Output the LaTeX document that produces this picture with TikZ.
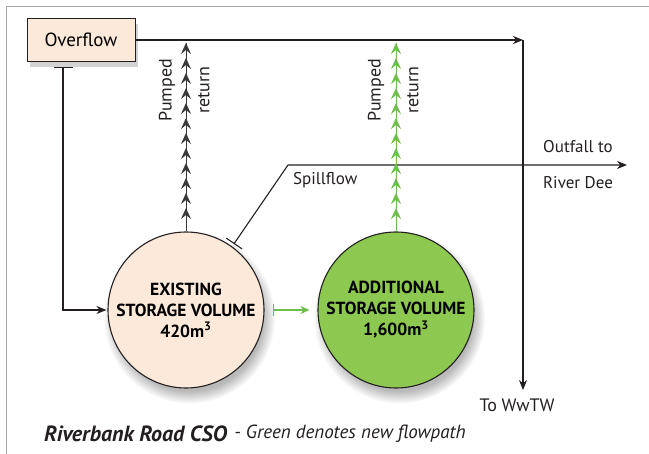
\documentclass[tikz,border=0pt]{standalone}
\usepackage{fontspec}
\setmainfont{PT Sans}
\usetikzlibrary{arrows.meta}
\usetikzlibrary{shadows}
\usetikzlibrary{decorations.markings}

\definecolor{peach}{HTML}{FCE9D9}
\definecolor{newgreen}{HTML}{8DC851}
\definecolor{arrowgreen}{HTML}{6DBE4B}
\definecolor{ink}{HTML}{231F20}
\definecolor{pumpgrey}{HTML}{3A3A3B}

\tikzset{
  flow/.style={draw=ink, line width=1.1pt},
  box/.style={shape=rectangle, draw=ink, fill=peach, line width=.9pt, minimum width=108pt, minimum height=43pt, font=\fontsize{19}{22}\selectfont,
    drop shadow={shadow xshift=3pt, shadow yshift=-6pt, opacity=.35}},
  tank/.style={shape=circle, draw=ink, line width=1.1pt, minimum size=156pt, inner sep=0pt, align=center,
    font=\bfseries\fontsize{17.5}{21}\selectfont,
    circular drop shadow={shadow xshift=3pt, shadow yshift=-7pt, opacity=.55}},
  pumped/.style={color=#1, line width=.9pt, postaction={decorate, decoration={markings,
    mark=between positions 0 and 170pt step 15pt with {\arrowreversed{Stealth[length=11pt,width=10pt,inset=4pt]}}}}},
  flowtext/.style={font=\fontsize{17}{20}\selectfont, text=ink, inner sep=1pt},
  newflow/.style={color=arrowgreen, line width=1.1pt, {Bar[width=12pt]}-{Stealth[length=9pt,width=8pt]}}
}

\begin{document}
\begin{tikzpicture}[x=1pt,y=-1pt]
\useasboundingbox (0,0) rectangle (649,454);
\draw[gray!70, line width=.8pt] (6,454) -- (6,6) -- (649,6);

% storage and overflow
\node[box] (overflow) at (81,40) {Overflow};
\node[tank, fill=peach] (existing) at (186,310) {EXISTING\\STORAGE VOLUME\\420m\textsuperscript{3}};
\node[tank, fill=newgreen] (additional) at (396,310) {ADDITIONAL\\STORAGE VOLUME\\1,600m\textsuperscript{3}};

\coordinate (split) at (523,40);
\coordinate (wwtwEnd) at (523,390);
\coordinate (bend) at (288,165);
\coordinate (outfall) at (627,165);
\coordinate (exTop) at (186,43);
\coordinate (adTop) at (396,43);

\node[flowtext, font=\fontsize{18}{20}\selectfont] (wwtw) at (517,405) {To WwTW};
\node[flowtext] (outfallto) at (578,147) {Outfall to};
\node[flowtext] (riverdee) at (578,183) {River Dee};
\node[flowtext, anchor=west] (spillflow) at (292,180) {Spillflow};
\node[flowtext, font=\fontsize{18}{20}\selectfont, rotate=90] (pumpA) at (167,90) {Pumped};
\node[flowtext, font=\fontsize{18}{20}\selectfont, rotate=90] (returnA) at (204,90) {return};
\node[flowtext, font=\fontsize{18}{20}\selectfont, rotate=90] (pumpB) at (376,90) {Pumped};
\node[flowtext, font=\fontsize{18}{20}\selectfont, rotate=90] (returnB) at (413,90) {return};

% flows
\draw[flow, -{Stealth[length=10pt,width=8pt]}] (overflow) -- (split);
\draw[flow, -{Stealth[length=10pt,width=8pt]}] (split) -- (wwtwEnd);
\draw[flow, {Bar[width=19pt]}-{Stealth[length=10pt,width=8pt]}, shorten <=5pt, shorten >=1pt] ([xshift=-18pt]overflow.south) |- (existing);
\draw[flow, {Bar[width=19pt]}-{Stealth[length=10pt,width=8pt]}, shorten <=3pt] (existing.54) -- (bend) -- (outfall);
\draw[newflow, shorten <=8pt, shorten >=8pt] (existing) -- (additional);

% pumped returns
\draw[pumped=pumpgrey] (exTop) -- (existing);
\draw[pumped=arrowgreen] (adTop) -- (additional);

% caption
\node[anchor=west, inner sep=0pt, text=ink, font=\bfseries\itshape\fontsize{22}{24}\selectfont] (title) at (44,434) {Riverbank Road CSO};
\node[anchor=west, inner sep=0pt, text=ink, font=\itshape\fontsize{19}{22}\selectfont] (note) at ([xshift=7pt]title.east) {- Green denotes new flowpath};
\end{tikzpicture}
\end{document}
